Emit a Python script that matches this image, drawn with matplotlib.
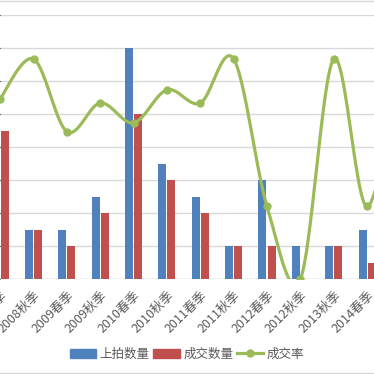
import numpy as np
import matplotlib
matplotlib.use('Agg')
import matplotlib.pyplot as plt
from matplotlib.lines import Line2D
from matplotlib.patches import Patch

plt.rcParams['font.family'] = ['Noto Sans CJK SC', 'DejaVu Sans']

categories = ['2008春季', '2008秋季', '2009春季', '2009秋季', '2010春季', '2010秋季',
              '2011春季', '2011秋季', '2012春季', '2012秋季', '2013秋季', '2014春季', '2014秋季']
listed = [11, 3, 3, 5, 14, 7, 5, 2, 6, 2, 2, 3, 2]
sold = [9, 3, 2, 4, 10, 6, 4, 2, 2, 0, 2, 1, 2]
rate = [0.82, 1.0, 0.67, 0.80, 0.71, 0.86, 0.80, 1.0, 0.33, 0.0, 1.0, 0.33, 1.0]

BLUE = '#4F81BD'
RED = '#C0504D'
GREEN = '#9BBB59'
GRID = '#D9D9D9'
TXT = '#595959'

W = 374
fig = plt.figure(figsize=(3.74, 3.74), dpi=100)
c0, s = 0.2, 33.35
bottom_px, top_px = 279, 15
ax = fig.add_axes([0, (W - bottom_px) / W, 1, (bottom_px - top_px) / W])
for sp in ax.spines.values():
    sp.set_visible(False)
ax.tick_params(axis='y', left=False, labelleft=False)

x = np.arange(len(categories))
bw = 0.24
off = 0.135
ax.bar(x - off, listed, width=bw, color=BLUE, zorder=2)
ax.bar(x + off, sold, width=bw, color=RED, zorder=2)
ax.axhline(0, color=GRID, lw=1, zorder=1)

ax.set_xticks(x)
ax.set_xticklabels(categories, rotation=45, ha='right', va='top',
                   rotation_mode='anchor', fontsize=9, color=TXT)
ax.tick_params(axis='x', length=0, pad=7)
ax.set_yticks(np.arange(0, 17, 2))
ax.yaxis.grid(True, color=GRID, lw=1)
ax.set_axisbelow(True)
ax.set_ylim(0, 16)
XL = (-c0 / s, (W - c0) / s)
ax.set_xlim(*XL)

ax2 = ax.twinx()
for sp in ax2.spines.values():
    sp.set_visible(False)
ax2.tick_params(right=False, labelright=False)

# smooth line (Catmull-Rom style Bezier, like spreadsheet smoothing)
P = np.column_stack([x, rate]).astype(float)
n = len(P)
xs, ys = [], []
t = np.linspace(0, 1, 40)
for i in range(n - 1):
    p0 = P[i - 1] if i > 0 else P[i]
    p1 = P[i]
    p2 = P[i + 1]
    p3 = P[i + 2] if i + 2 < n else P[i + 1]
    c1 = p1 + (p2 - p0) / 6
    c2 = p2 - (p3 - p1) / 6
    b = ((1 - t) ** 3)[:, None] * p1 + (3 * (1 - t) ** 2 * t)[:, None] * c1 + \
        (3 * (1 - t) * t ** 2)[:, None] * c2 + (t ** 3)[:, None] * p2
    xs.extend(b[:, 0]); ys.extend(b[:, 1])
ax2.plot(xs, ys, color=GREEN, lw=2.3, solid_capstyle='round', zorder=3)
ax2.plot(x, rate, 'o', color=GREEN, ms=5, zorder=4)
ax2.set_ylim(0, 1.2)
ax2.set_xlim(*XL)
ax.set_xlim(*XL)

handles = [Patch(color=BLUE), Patch(color=RED),
           Line2D([], [], color=GREEN, lw=2.3, marker='o', ms=5)]
fig.legend(handles, ['上拍数量', '成交数量', '成交率'], loc='center',
           bbox_to_anchor=(187 / W, 1 - 354 / W), ncol=3, frameon=False,
           fontsize=9, handlelength=2.1, handletextpad=0.3, columnspacing=0.3,
           labelcolor=TXT)

fig.add_artist(Line2D([0, 1], [1 - 0.6 / W] * 2, transform=fig.transFigure, color=GRID, lw=1))
fig.add_artist(Line2D([0, 1], [1 - 373.3 / W] * 2, transform=fig.transFigure, color=GRID, lw=1))

fig.savefig('out.png', dpi=100)
